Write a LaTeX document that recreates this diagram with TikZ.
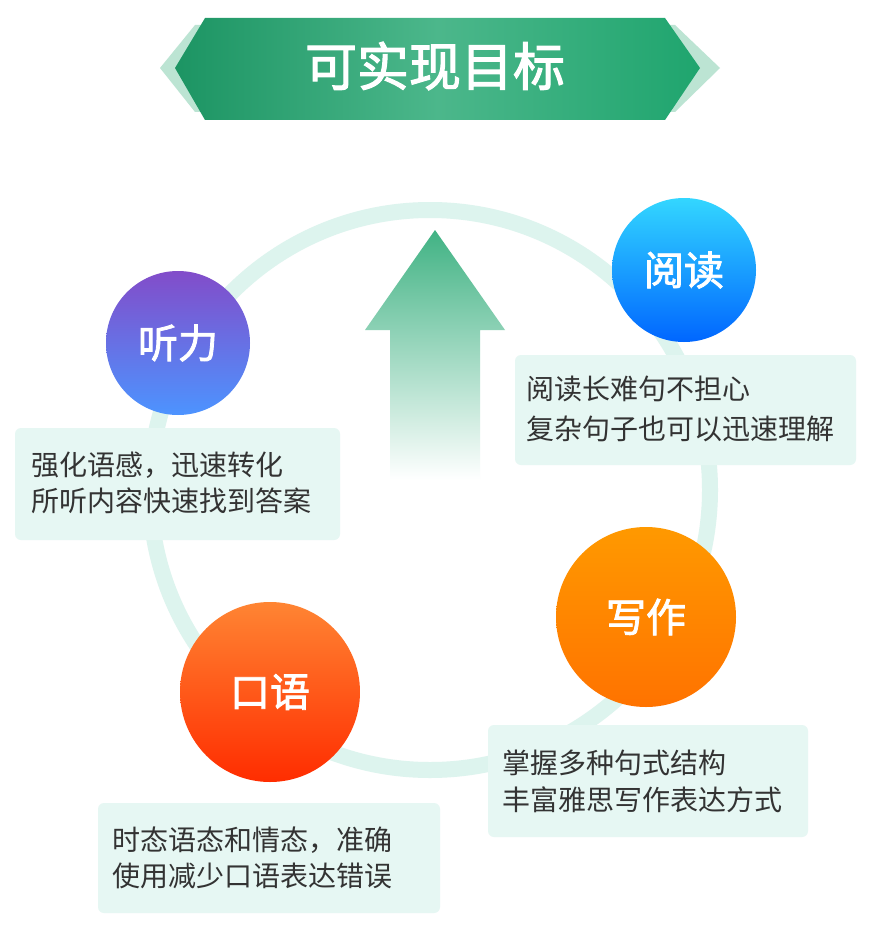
\documentclass[tikz,border=0pt]{standalone}
\usepackage{fontspec}
\newfontfamily\cjk{Noto Sans CJK SC}
\newfontfamily\cjkb[FakeBold=2]{Noto Sans CJK SC}
\definecolor{banner}{HTML}{1FA56E}
\definecolor{mint}{HTML}{E6F7F3}
\definecolor{ring}{HTML}{DDF4EE}
\tikzset{
  txtbox/.style={fill=mint, rounded corners=6pt},
  txt/.style={anchor=west, font=\cjk\fontsize{28}{32}\selectfont, text=black!80},
  skill/.style={circle, text=white, font=\cjkb\fontsize{40}{46}\selectfont}
}
\begin{document}
\begin{tikzpicture}[x=1pt,y=-1pt]
    \useasboundingbox (0,0) rectangle (870,936);
    \fill[white] (0,0) rectangle (870,936);

    % Big ring behind
    \draw[ring, line width=16pt] (430,490) circle (280);

    % Header banner
    \fill[banner!30] (160,68) -- (195,25) -- (675,25) -- (720,68) -- (675,112) -- (195,112) -- cycle;
    \shade[left color=banner!90!black, right color=banner, middle color=banner!80]
        (175,68) -- (205,18) -- (665,18) -- (700,68) -- (665,120) -- (205,120) -- cycle;
    \node[font=\cjkb\fontsize{52}{58}\selectfont, text=white] (title) at (435,66) {可实现目标};

    % Up arrow
    \shade[top color=banner!85, bottom color=white]
        (435,230) -- (505,330) -- (480,330) -- (480,480) -- (390,480) -- (390,330) -- (365,330) -- cycle;

    % Skill circles
    \node[skill, minimum size=144pt, shading=axis, top color=violet!60!blue!70, bottom color=blue!60!cyan!70] (listen) at (178,343) {听力};
    \node[skill, minimum size=144pt, shading=axis, top color=cyan!80!blue!80, bottom color=blue!60!cyan] (read) at (684,270) {阅读};
    \node[skill, minimum size=180pt, shading=axis, top color=orange!80!yellow, bottom color=orange!90!red] (write) at (646,617) {写作};
    \node[skill, minimum size=180pt, shading=axis, top color=orange!80!red!80, bottom color=red!65!orange] (speak) at (270,692) {口语};

    % Text boxes
    \fill[txtbox] (15,428) rectangle (340,540);
    \node[txt] (l1) at (28,465) {强化语感，迅速转化};
    \node[txt] (l2) at (28,501) {所听内容快速找到答案};

    \fill[txtbox] (515,355) rectangle (856,465);
    \node[txt] (r1) at (523,389) {阅读长难句不担心};
    \node[txt] (r2) at (523,429) {复杂句子也可以迅速理解};

    \fill[txtbox] (488,725) rectangle (808,837);
    \node[txt] (w1) at (499,763) {掌握多种句式结构};
    \node[txt] (w2) at (499,800) {丰富雅思写作表达方式};

    \fill[txtbox] (98,803) rectangle (440,913);
    \node[txt] (s1) at (109,840) {时态语态和情态，准确};
    \node[txt] (s2) at (109,876) {使用减少口语表达错误};
\end{tikzpicture}
\end{document}
